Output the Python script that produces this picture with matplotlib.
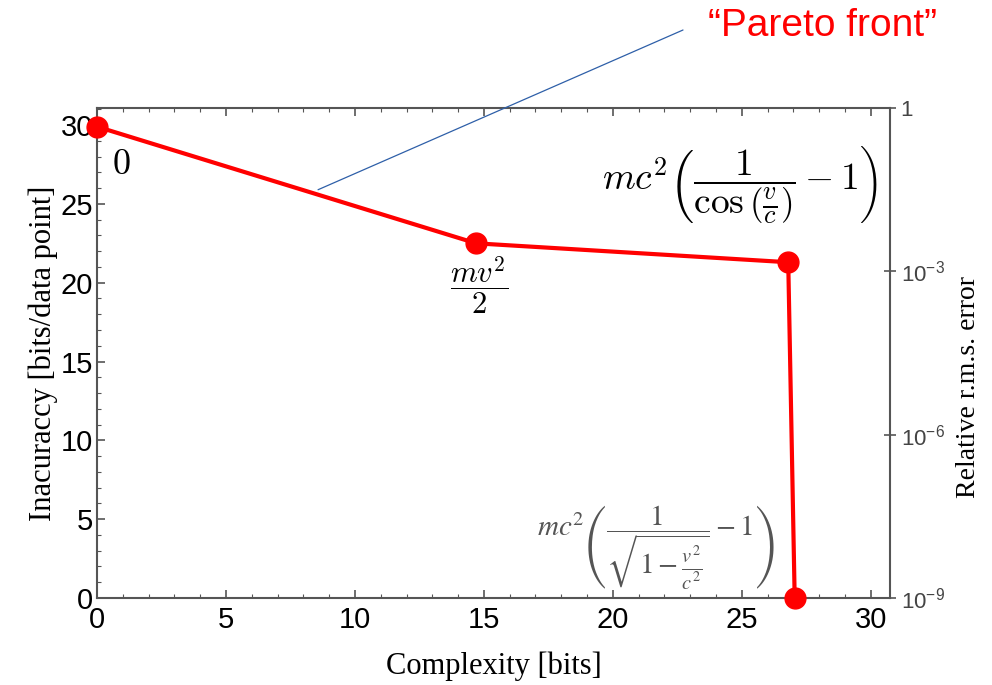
import matplotlib.pyplot as plt
from matplotlib.ticker import MultipleLocator, FixedLocator

plt.rcParams['mathtext.fontset'] = 'cm'

# Pareto front: complexity vs. inaccuracy of candidate formulas
complexity = [0.0, 14.7, 26.8, 27.05]
inaccuracy = [29.9, 22.5, 21.3, 0.0]
formulas = [
    r'$0$',
    r'$\dfrac{mv^2}{2}$',
    r'$mc^2\left(\dfrac{1}{\cos\left(\frac{v}{c}\right)}-1\right)$',
    r'$mc^2\left(\dfrac{1}{\sqrt{1-\frac{v^2}{c^2}}}-1\right)$',
]
x_ticks = [0, 5, 10, 15, 20, 25, 30]
y_ticks = [0, 5, 10, 15, 20, 25, 30]
err_ticks = [1e-9, 1e-6, 1e-3, 1]
err_labels = [r'$\mathregular{10^{-9}}$', r'$\mathregular{10^{-6}}$',
              r'$\mathregular{10^{-3}}$', '1']

sans = 'Liberation Sans'
serif = 'Liberation Serif'
spine_col = '#555555'

fig = plt.figure(figsize=(9.92, 6.85), dpi=100)
ax = fig.add_axes([0.0978, 0.127, 0.7995, 0.715])

ax.plot(complexity, inaccuracy, color='#ff0000', lw=3, marker='o',
        markersize=15, zorder=5, clip_on=False)

ax.set_xlim(0, 30.75)
ax.set_ylim(0, 31.07)
ax.set_xticks(x_ticks)
ax.set_yticks(y_ticks)
ax.xaxis.set_minor_locator(MultipleLocator(1))
ax.yaxis.set_minor_locator(MultipleLocator(1))
ax.tick_params(which='both', direction='in', top=True, right=False,
               color=spine_col)
ax.tick_params(which='major', length=6, width=1.2)
ax.tick_params(which='minor', length=3, width=0.8)
for lab in ax.get_xticklabels() + ax.get_yticklabels():
    lab.set_fontfamily(sans)
    lab.set_fontsize(21)
ax.tick_params(axis='x', pad=6)
ax.tick_params(axis='y', pad=3)
for sp in ax.spines.values():
    sp.set_color(spine_col)
    sp.set_linewidth(1.5)

ax.set_xlabel('Complexity [bits]', family=serif, fontsize=22, labelpad=12)
ax.set_ylabel('Inacuraccy [bits/data point]', family=serif, fontsize=22,
              labelpad=2)

# right-hand log axis for relative error
ax2 = ax.twinx()
ax2.set_yscale('log')
ax2.set_ylim(1e-9, 1)
ax2.yaxis.set_major_locator(FixedLocator(err_ticks))
ax2.yaxis.set_minor_locator(FixedLocator([]))
ax2.set_yticklabels(err_labels, family=sans, fontsize=16, color='#444444')
ax2.tick_params(direction='inout', length=8, width=1.2, color=spine_col)
for sp in ax2.spines.values():
    sp.set_visible(False)
ax2.set_ylabel('Relative r.m.s. error', family=serif, fontsize=20,
               rotation=90)
ax2.yaxis.set_label_coords(1.083, 0.43)

# formula labels next to each point
ax.annotate(formulas[0], (complexity[0], inaccuracy[0]), xytext=(24, -37),
            textcoords='offset pixels', fontsize=26, ha='center', va='center')
ax.annotate(formulas[1], (complexity[1], inaccuracy[1]), xytext=(3, -42),
            textcoords='offset pixels', fontsize=22, ha='center', va='center')
ax.annotate(formulas[2], (complexity[2], inaccuracy[2]), xytext=(-48, 78),
            textcoords='offset pixels', fontsize=27, ha='center', va='center')
ax.annotate(formulas[3], (complexity[3], inaccuracy[3]), xytext=(-139, 50),
            textcoords='offset pixels', fontsize=21, ha='center', va='center',
            color='#555555', math_fontfamily='stix')

# call-out for the front
fig.text(0.829, 0.962, '\u201cPareto front\u201d', family=sans, fontsize=28,
         color='#ff0000', ha='center', va='center')
ax.annotate('', xy=(8.57, 25.9), xycoords='data',
            xytext=(683 / 992, 1 - 30 / 685), textcoords='figure fraction',
            arrowprops=dict(arrowstyle='-', color='#2e5fa8', lw=0.9,
                            shrinkA=0, shrinkB=0),
            annotation_clip=False)

fig.savefig('out.png', dpi=100)
